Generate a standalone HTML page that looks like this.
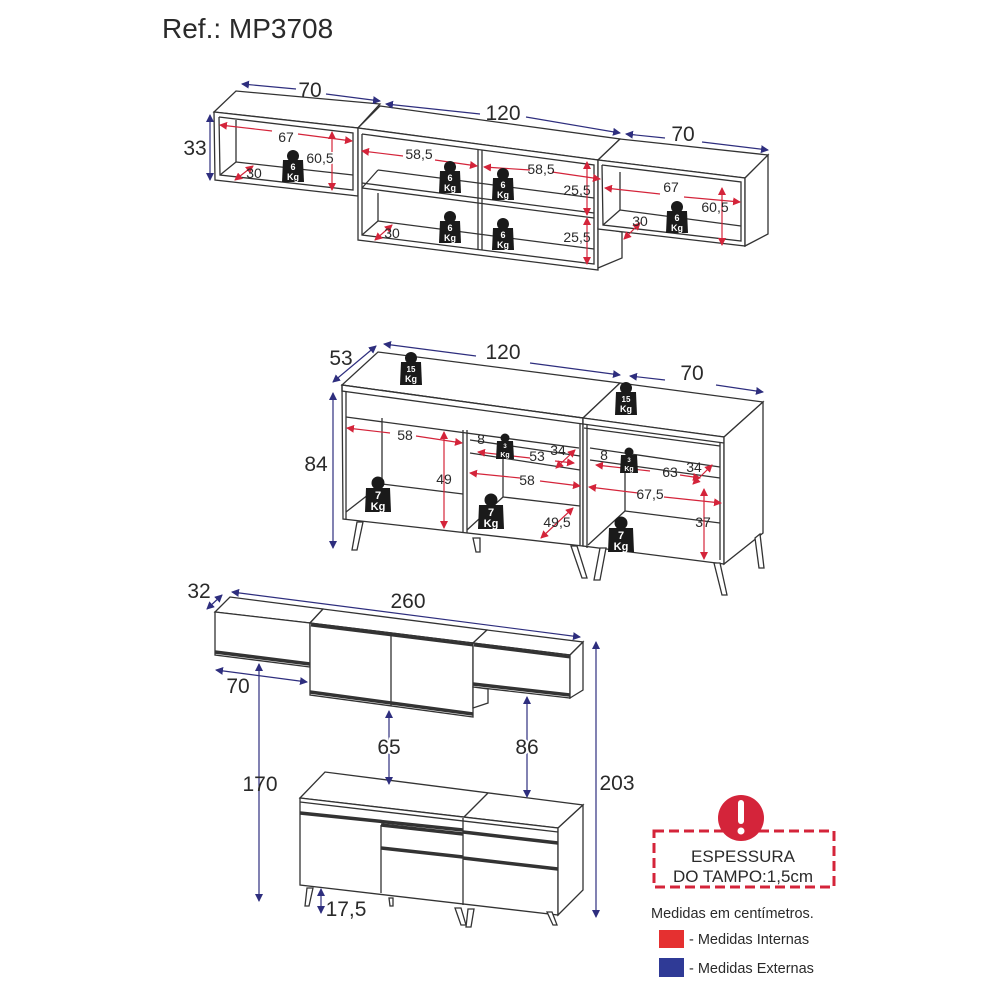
<!DOCTYPE html>
<html><head><meta charset="utf-8"><style>
html,body{margin:0;padding:0;background:#fff;}
svg{display:block;font-family:"Liberation Sans",Arial,sans-serif;}
</style></head><body>
<svg width="1000" height="1000" viewBox="0 0 1000 1000" xmlns="http://www.w3.org/2000/svg">
<defs>
<marker id="bA" markerWidth="8" markerHeight="8" refX="7" refY="4" orient="auto-start-reverse" markerUnits="userSpaceOnUse"><path d="M0,0 L8,4 L0,8 z" fill="#2e2e7e"/></marker>
<marker id="rA" markerWidth="8" markerHeight="8" refX="7" refY="4" orient="auto-start-reverse" markerUnits="userSpaceOnUse"><path d="M0,0 L8,4 L0,8 z" fill="#d4243a"/></marker>
<g id="w6"><circle cx="0" cy="-11" r="6" fill="#1a1a1a"/><path d="M-10,-7 L10,-7 L11,15 L-11,15 Z" fill="#1a1a1a"/><text x="0" y="3" font-size="9" fill="#fff" text-anchor="middle" font-weight="bold">6</text><text x="0" y="13" font-size="9" fill="#fff" text-anchor="middle" font-weight="bold">Kg</text></g>
<g id="w15"><circle cx="0" cy="-12" r="6" fill="#1a1a1a"/><path d="M-10,-8 L10,-8 L11,15 L-11,15 Z" fill="#1a1a1a"/><text x="0" y="2" font-size="8" fill="#fff" text-anchor="middle" font-weight="bold">15</text><text x="0" y="12" font-size="9" fill="#fff" text-anchor="middle" font-weight="bold">Kg</text></g>
<g id="w3"><circle cx="0" cy="-9" r="4.5" fill="#1a1a1a"/><path d="M-8,-6 L8,-6 L9,12 L-9,12 Z" fill="#1a1a1a"/><text x="0" y="1" font-size="6" fill="#fff" text-anchor="middle" font-weight="bold">3</text><text x="0" y="10" font-size="7" fill="#fff" text-anchor="middle" font-weight="bold">Kg</text></g>
<g id="w7"><circle cx="0" cy="-12" r="6.5" fill="#1a1a1a"/><path d="M-12,-7 L12,-7 L13,17 L-13,17 Z" fill="#1a1a1a"/><text x="0" y="4" font-size="11" fill="#fff" text-anchor="middle" font-weight="bold">7</text><text x="0" y="15" font-size="11" fill="#fff" text-anchor="middle" font-weight="bold">Kg</text></g>
</defs>

<text x="162" y="38" font-size="28" fill="#2a2a2a">Ref.: MP3708</text>

<!-- ===== TOP WALL CABINETS ===== -->
<g fill="none" stroke="#333" stroke-width="1.3">
<polygon points="214,112 236,91 380,104 358,128" fill="#fff"/>
<polygon points="214,112 358,128 358,196 215,180" fill="#fff"/>
<polyline points="219,117 353,133 353,190 220,175 219,117"/>
<line x1="236" y1="120" x2="236" y2="162"/><line x1="236" y1="162" x2="353" y2="175"/><line x1="220" y1="175" x2="236" y2="162"/>
<polygon points="358,128 380,106 620,139 598,160" fill="#fff"/>
<polygon points="358,128 598,160 598,270 358,240" fill="#fff"/>
<polyline points="362,134 594,165 594,264 362,235 362,134"/>
<line x1="362" y1="188" x2="594" y2="218"/><line x1="362" y1="183" x2="594" y2="213"/>
<line x1="478" y1="150" x2="478" y2="250"/><line x1="482" y1="150" x2="482" y2="250"/>
<line x1="378" y1="170" x2="594" y2="198"/><line x1="362" y1="188" x2="378" y2="170"/>
<line x1="378" y1="221" x2="594" y2="249"/><line x1="362" y1="235" x2="378" y2="221"/>
<line x1="378" y1="193" x2="378" y2="221"/>
<polygon points="598,228 622,232 622,258 598,268" fill="#fff"/>
<polygon points="598,160 620,139 768,155 745,178" fill="#fff"/>
<polygon points="598,160 745,178 745,246 598,229" fill="#fff"/>
<polygon points="745,178 768,155 768,234 745,246" fill="#fff"/>
<polyline points="602,165 741,182 741,241 603,225 602,165"/>
<line x1="620" y1="172" x2="620" y2="210"/><line x1="620" y1="210" x2="741" y2="226"/><line x1="603" y1="225" x2="620" y2="210"/>
</g>
<g stroke="#2e2e7e" stroke-width="1.2" fill="none">
<line x1="242" y1="84" x2="296" y2="89" marker-start="url(#bA)"/><line x1="326" y1="94" x2="380" y2="101" marker-end="url(#bA)"/>
<line x1="386" y1="104" x2="480" y2="114" marker-start="url(#bA)"/><line x1="526" y1="117" x2="620" y2="133" marker-end="url(#bA)"/>
<line x1="626" y1="134" x2="665" y2="138" marker-start="url(#bA)"/><line x1="702" y1="142" x2="768" y2="150" marker-end="url(#bA)"/>
<line x1="210" y1="115" x2="210" y2="180" marker-start="url(#bA)" marker-end="url(#bA)"/>
</g>
<g font-size="21" fill="#2a2a2a" text-anchor="middle">
<text x="310" y="97">70</text><text x="503" y="120">120</text><text x="683" y="141">70</text><text x="195" y="155">33</text>
</g>
<g stroke="#d4243a" stroke-width="1.2" fill="none">
<line x1="220" y1="125" x2="272" y2="131" marker-start="url(#rA)"/><line x1="298" y1="134" x2="352" y2="141" marker-end="url(#rA)"/>
<line x1="332" y1="132" x2="332" y2="190" marker-start="url(#rA)" marker-end="url(#rA)"/>
<line x1="235" y1="180" x2="253" y2="166" marker-start="url(#rA)" marker-end="url(#rA)"/>
<line x1="362" y1="151" x2="403" y2="156" marker-start="url(#rA)"/><line x1="435" y1="160" x2="477" y2="166" marker-end="url(#rA)"/>
<line x1="484" y1="167" x2="530" y2="170" marker-start="url(#rA)"/><line x1="552" y1="172" x2="600" y2="179" marker-end="url(#rA)"/>
<line x1="587" y1="162" x2="587" y2="215" marker-start="url(#rA)" marker-end="url(#rA)"/>
<line x1="587" y1="218" x2="587" y2="264" marker-start="url(#rA)" marker-end="url(#rA)"/>
<line x1="375" y1="240" x2="392" y2="225" marker-start="url(#rA)" marker-end="url(#rA)"/>
<line x1="605" y1="188" x2="660" y2="194" marker-start="url(#rA)"/><line x1="684" y1="197" x2="740" y2="202" marker-end="url(#rA)"/>
<line x1="722" y1="188" x2="722" y2="245" marker-start="url(#rA)" marker-end="url(#rA)"/>
<line x1="624" y1="239" x2="640" y2="223" marker-start="url(#rA)" marker-end="url(#rA)"/>
</g>
<g font-size="14" fill="#2a2a2a" text-anchor="middle">
<text x="286" y="142">67</text><text x="320" y="163" fill="#2a2a2a" stroke="#fff" stroke-width="3" paint-order="stroke">60,5</text><text x="254" y="178">30</text>
<text x="419" y="159">58,5</text><text x="541" y="174">58,5</text><text x="577" y="195">25,5</text><text x="577" y="242">25,5</text><text x="392" y="238">30</text>
<text x="671" y="192">67</text><text x="715" y="212">60,5</text><text x="640" y="226">30</text>
</g>
<use href="#w6" x="293" y="167"/><use href="#w6" x="450" y="178"/><use href="#w6" x="503" y="185"/>
<use href="#w6" x="450" y="228"/><use href="#w6" x="503" y="235"/><use href="#w6" x="677" y="218"/>

<!-- ===== SIDEBOARD (MIDDLE) ===== -->
<g fill="none" stroke="#333" stroke-width="1.3">
<polygon points="342,385 378,352 620,383 583,418" fill="#fff"/>
<polygon points="583,418 620,383 763,402 724,437" fill="#fff"/>
<polygon points="342,385 583,418 583,546 343,519" fill="#fff"/>
<polygon points="342,385 342,391 583,424 583,418"/>
<polygon points="583,418 724,437 724,564 583,546" fill="#fff"/>
<polygon points="724,437 763,402 763,533 724,564" fill="#fff"/>
<line x1="583" y1="424" x2="724" y2="443"/>
<polyline points="346,417 579,448"/><polyline points="584,428 720,446"/>
<line x1="346" y1="391" x2="346" y2="519"/><line x1="463" y1="430" x2="463" y2="533"/><line x1="467" y1="430" x2="467" y2="533"/>
<line x1="580" y1="424" x2="580" y2="545"/><line x1="587" y1="424" x2="587" y2="548"/><line x1="720" y1="443" x2="720" y2="560"/>
<line x1="382" y1="418" x2="382" y2="484"/><line x1="382" y1="484" x2="463" y2="494"/><line x1="346" y1="512" x2="382" y2="484"/>
<line x1="470" y1="453" x2="580" y2="470"/><line x1="503" y1="458" x2="503" y2="497"/><line x1="503" y1="497" x2="580" y2="506"/><line x1="467" y1="530" x2="503" y2="497"/>
<line x1="470" y1="440" x2="580" y2="456"/>
<line x1="590" y1="448" x2="720" y2="467"/><line x1="590" y1="460" x2="720" y2="478"/>
<line x1="625" y1="465" x2="625" y2="511"/><line x1="625" y1="511" x2="720" y2="523"/><line x1="588" y1="545" x2="625" y2="511"/>
<polygon points="357,522 363,522 357,550 352,550" fill="#fff"/>
<polygon points="473,538 480,538 480,552 476,552" fill="#fff"/>
<polygon points="571,546 577,546 587,578 582,578" fill="#fff"/>
<polygon points="600,548 606,548 600,580 594,580" fill="#fff"/>
<polygon points="714,563 720,563 727,595 722,595" fill="#fff"/>
<polygon points="755,538 760,534 764,568 759,568" fill="#fff"/>
</g>
<g stroke="#2e2e7e" stroke-width="1.2" fill="none">
<line x1="333" y1="382" x2="376" y2="346" marker-start="url(#bA)" marker-end="url(#bA)"/>
<line x1="384" y1="344" x2="476" y2="356" marker-start="url(#bA)"/><line x1="530" y1="363" x2="620" y2="375" marker-end="url(#bA)"/>
<line x1="630" y1="376" x2="665" y2="380" marker-start="url(#bA)"/><line x1="716" y1="385" x2="763" y2="392" marker-end="url(#bA)"/>
<line x1="333" y1="393" x2="333" y2="548" marker-start="url(#bA)" marker-end="url(#bA)"/>
</g>
<g font-size="21" fill="#2a2a2a" text-anchor="middle">
<text x="341" y="365">53</text><text x="503" y="359">120</text><text x="692" y="380">70</text><text x="316" y="471">84</text>
</g>
<g stroke="#d4243a" stroke-width="1.2" fill="none">
<line x1="347" y1="428" x2="390" y2="433" marker-start="url(#rA)"/><line x1="416" y1="436" x2="462" y2="443" marker-end="url(#rA)"/>
<line x1="444" y1="432" x2="444" y2="528" marker-start="url(#rA)" marker-end="url(#rA)"/>
<line x1="470" y1="473" x2="520" y2="478" marker-start="url(#rA)"/><line x1="540" y1="481" x2="580" y2="486" marker-end="url(#rA)"/>
<line x1="541" y1="538" x2="573" y2="508" marker-start="url(#rA)" marker-end="url(#rA)"/>
<line x1="478" y1="452" x2="530" y2="458" marker-start="url(#rA)"/><line x1="555" y1="461" x2="574" y2="463" marker-end="url(#rA)"/>
<line x1="556" y1="468" x2="575" y2="450" marker-start="url(#rA)" marker-end="url(#rA)"/>
<line x1="589" y1="487" x2="638" y2="493" marker-start="url(#rA)"/><line x1="664" y1="497" x2="721" y2="503" marker-end="url(#rA)"/>
<line x1="704" y1="489" x2="704" y2="559" marker-start="url(#rA)" marker-end="url(#rA)"/>
<line x1="596" y1="465" x2="650" y2="471" marker-start="url(#rA)"/><line x1="680" y1="475" x2="700" y2="478" marker-end="url(#rA)"/>
<line x1="693" y1="484" x2="712" y2="465" marker-start="url(#rA)" marker-end="url(#rA)"/>
</g>
<g font-size="14" fill="#2a2a2a" text-anchor="middle">
<text x="405" y="440">58</text><text x="444" y="484">49</text><text x="527" y="485">58</text><text x="557" y="527">49,5</text>
<text x="481" y="444">8</text><text x="537" y="461">53</text><text x="558" y="455">34</text>
<text x="604" y="460">8</text><text x="670" y="477">63</text><text x="694" y="472">34</text>
<text x="650" y="499">67,5</text><text x="703" y="527">37</text>
</g>
<use href="#w15" x="411" y="370"/><use href="#w15" x="626" y="400"/>
<use href="#w3" x="505" y="447"/><use href="#w3" x="629" y="461"/>
<use href="#w7" x="378" y="495"/><use href="#w7" x="491" y="512"/><use href="#w7" x="621" y="535"/>

<!-- ===== ASSEMBLED VIEW ===== -->
<g fill="none" stroke="#333" stroke-width="1.3">
<polygon points="215,612 230,597 323,609 310,623" fill="#fff"/>
<polygon points="215,612 310,623 310,667 215,655" fill="#fff"/>
<line x1="215" y1="652" x2="310" y2="664" stroke-width="3.5"/>
<polygon points="310,623 323,609 487,630 473,643" fill="#fff"/>
<polygon points="310,623 473,643 473,717 310,695" fill="#fff"/>
<line x1="311" y1="625" x2="473" y2="645" stroke-width="3"/>
<line x1="310" y1="692" x2="473" y2="714" stroke-width="3.5"/>
<line x1="391" y1="634" x2="391" y2="706"/>
<polygon points="473,643 487,630 583,642 570,655" fill="#fff"/>
<polygon points="473,643 570,655 570,698 473,687" fill="#fff"/>
<polygon points="570,655 583,642 583,690 570,698" fill="#fff"/>
<line x1="474" y1="645" x2="570" y2="657" stroke-width="3"/>
<line x1="473" y1="684" x2="570" y2="695" stroke-width="3.5"/>
<polygon points="473,687 488,689 488,703 473,708" fill="#fff"/>
<polygon points="300,798 325,772 583,805 558,828" fill="#fff"/>
<line x1="463" y1="818" x2="488" y2="793"/>
<polygon points="300,798 558,828 558,915 300,885" fill="#fff"/>
<polygon points="558,828 583,805 583,890 558,915" fill="#fff"/>
<line x1="300" y1="802" x2="558" y2="832"/>
<line x1="463" y1="818" x2="463" y2="905"/>
<line x1="300" y1="813" x2="463" y2="830" stroke-width="3.5"/>
<line x1="381" y1="825" x2="463" y2="834" stroke-width="3.5"/>
<line x1="381" y1="848" x2="463" y2="857" stroke-width="3.5"/>
<line x1="463" y1="832" x2="558" y2="843" stroke-width="3.5"/>
<line x1="463" y1="858" x2="558" y2="869" stroke-width="3.5"/>
<line x1="381" y1="825" x2="381" y2="893"/>
<polygon points="307,888 313,888 309,906 305,906" fill="#fff"/>
<polygon points="389,898 393,898 393,906 390,906" fill="#fff"/>
<polygon points="455,908 461,908 466,925 461,925" fill="#fff"/>
<polygon points="468,909 474,909 471,927 466,927" fill="#fff"/>
<polygon points="547,912 552,912 557,925 553,925" fill="#fff"/>
</g>
<g stroke="#2e2e7e" stroke-width="1.2" fill="none">
<line x1="207" y1="609" x2="222" y2="595" marker-start="url(#bA)" marker-end="url(#bA)"/>
<line x1="232" y1="592" x2="580" y2="637" marker-start="url(#bA)" marker-end="url(#bA)"/>
<line x1="216" y1="670" x2="307" y2="682" marker-start="url(#bA)" marker-end="url(#bA)"/>
<line x1="259" y1="664" x2="259" y2="901" marker-start="url(#bA)" marker-end="url(#bA)"/>
<line x1="389" y1="711" x2="389" y2="784" marker-start="url(#bA)" marker-end="url(#bA)"/>
<line x1="527" y1="697" x2="527" y2="797" marker-start="url(#bA)" marker-end="url(#bA)"/>
<line x1="596" y1="642" x2="596" y2="917" marker-start="url(#bA)" marker-end="url(#bA)"/>
<line x1="321" y1="889" x2="321" y2="913" marker-start="url(#bA)" marker-end="url(#bA)"/>
</g>
<rect x="395" y="595" width="30" height="16" fill="#fff"/>
<g font-size="21" fill="#2a2a2a" text-anchor="middle">
<text x="199" y="598">32</text><text x="408" y="608">260</text><text x="238" y="693">70</text>
<text x="260" y="791">170</text><text x="389" y="754" stroke="#fff" stroke-width="4" paint-order="stroke">65</text><text x="527" y="754" stroke="#fff" stroke-width="4" paint-order="stroke">86</text>
<text x="617" y="790">203</text><text x="346" y="916">17,5</text>
</g>

<rect x="654" y="831" width="180" height="56" fill="none" stroke="#d4243a" stroke-width="3" stroke-dasharray="10,5"/>
<circle cx="741" cy="818" r="23" fill="#d4243a"/>
<rect x="738" y="800" width="6" height="24" rx="3" fill="#fff"/>
<circle cx="741" cy="831" r="3.5" fill="#fff"/>
<g font-size="17" fill="#2a2a2a" text-anchor="middle">
<text x="743" y="862">ESPESSURA</text><text x="743" y="882">DO TAMPO:1,5cm</text>
</g>
<text x="651" y="918" font-size="14.5" fill="#2a2a2a">Medidas em centímetros.</text>
<rect x="659" y="930" width="25" height="18" fill="#e53030"/>
<text x="689" y="944" font-size="14.5" fill="#2a2a2a">- Medidas Internas</text>
<rect x="659" y="958" width="25" height="19" fill="#2f3a96"/>
<text x="689" y="973" font-size="14.5" fill="#2a2a2a">- Medidas Externas</text>
</svg>
</body></html>
